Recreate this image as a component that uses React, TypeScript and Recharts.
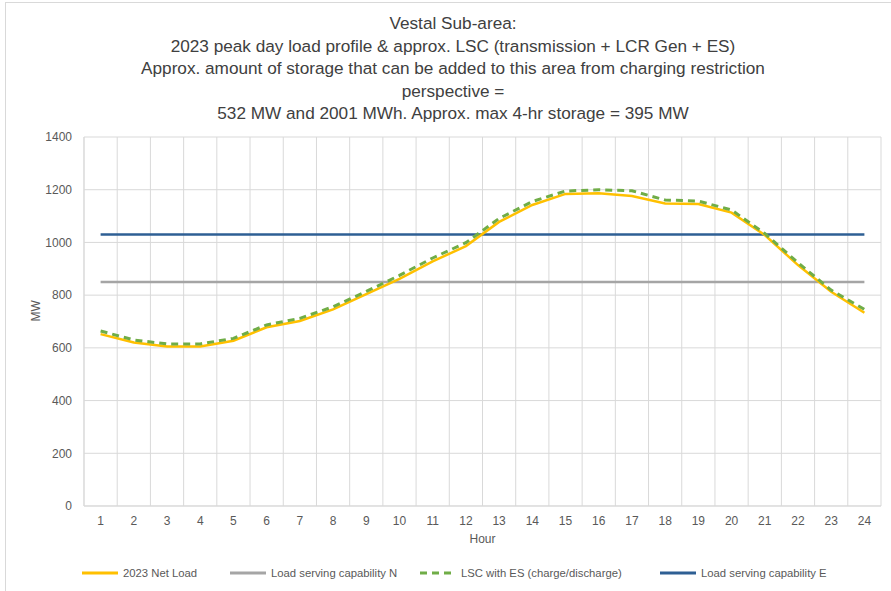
import { LineChart, Line, XAxis, YAxis, CartesianGrid } from "recharts";

const hours = [1, 2, 3, 4, 5, 6, 7, 8, 9, 10, 11, 12, 13, 14, 15, 16, 17, 18, 19, 20, 21, 22, 23, 24];

const netLoad = [652, 620, 605, 605, 627, 678, 702, 746, 804, 862, 928, 986, 1078, 1142, 1184, 1187, 1176, 1148, 1146, 1113, 1028, 914, 813, 733];
const lscWithEs = [664, 630, 615, 615, 636, 687, 712, 756, 814, 875, 941, 999, 1091, 1155, 1195, 1200, 1196, 1161, 1157, 1123, 1034, 923, 819, 746];
const capabilityN = 850;
const capabilityE = 1030;

const yTicks = [0, 200, 400, 600, 800, 1000, 1200, 1400];

const titleLines = [
  "Vestal Sub-area:",
  "2023 peak day load profile & approx. LSC (transmission + LCR Gen + ES)",
  "Approx. amount of storage that can be added to this area from charging restriction",
  "perspective =",
  "532 MW and 2001 MWh. Approx. max 4-hr storage = 395 MW",
];

const data = hours.map((h, i) => ({
  hour: h,
  net: netLoad[i],
  lsc: lscWithEs[i],
  capN: capabilityN,
  capE: capabilityE,
}));

const FONT = "'Liberation Sans', Arial, sans-serif";
const TEXT = "#595959";

const legendItems = [
  { label: "2023 Net Load", color: "#FFC000", dash: false, x: 80 },
  { label: "Load serving capability N", color: "#A5A5A5", dash: false, x: 228 },
  { label: "LSC with ES (charge/discharge)", color: "#70AD47", dash: true, x: 418 },
  { label: "Load serving capability E", color: "#2E5F94", dash: false, x: 658 },
];

export default function App() {
  return (
    <div
      style={{
        position: "fixed",
        left: 0,
        top: 0,
        width: 891,
        height: 591,
        background: "#fff",
        fontFamily: FONT,
        overflow: "hidden",
      }}
    >
      {/* chart frame */}
      <div
        style={{
          position: "absolute",
          left: 5,
          top: 2,
          width: 900,
          height: 600,
          border: "1px solid #d9d9d9",
        }}
      />

      {/* title */}
      <div
        style={{
          position: "absolute",
          left: 0,
          top: 12,
          width: 906,
          textAlign: "center",
          color: "#404040",
          fontSize: 17.2,
          lineHeight: "22.5px",
        }}
      >
        {titleLines.map((t) => (
          <div key={t}>{t}</div>
        ))}
      </div>

      <div style={{ position: "absolute", left: 0, top: 0 }}>
        <LineChart
          width={891}
          height={591}
          data={data}
          margin={{ top: 137, right: 10, bottom: 55, left: 44 }}
        >
          <CartesianGrid
            stroke="#d9d9d9"
            strokeWidth={1}
            verticalCoordinatesGenerator={({ offset }: any) =>
              hours.concat([0]).map((_, i) => offset.left + (i * offset.width) / hours.length)
            }
          />
          <XAxis
            dataKey="hour"
            type="number"
            domain={[0.5, 24.5]}
            ticks={hours}
            tickLine={false}
            tickSize={0}
            tickMargin={10}
            axisLine={{ stroke: "#d9d9d9" }}
            tick={{ fill: TEXT, fontSize: 12, fontFamily: FONT }}
            interval={0}
            height={30}
            label={{ value: "Hour", position: "insideBottom", offset: -7, fill: TEXT, fontSize: 12, fontFamily: FONT }}
          />
          <YAxis
            domain={[0, 1400]}
            ticks={yTicks}
            tickLine={false}
            tickSize={0}
            tickMargin={12}
            axisLine={{ stroke: "#d9d9d9" }}
            tick={{ fill: TEXT, fontSize: 12, fontFamily: FONT }}
            width={40}
            label={{ value: "MW", angle: -90, position: "insideLeft", offset: -8, fill: TEXT, fontSize: 12, fontFamily: FONT }}
          />
          <Line dataKey="capN" stroke="#A5A5A5" strokeWidth={2.5} dot={false} isAnimationActive={false} />
          <Line dataKey="capE" stroke="#2E5F94" strokeWidth={2.5} dot={false} isAnimationActive={false} />
          <Line dataKey="net" stroke="#FFC000" strokeWidth={2.5} dot={false} isAnimationActive={false} />
          <Line
            dataKey="lsc"
            stroke="#70AD47"
            strokeWidth={3}
            strokeDasharray="7 5"
            dot={false}
            isAnimationActive={false}
          />
        </LineChart>
      </div>

      {/* legend */}
      {legendItems.map((it) => (
        <div
          key={it.label}
          style={{
            position: "absolute",
            left: it.x,
            top: 566,
            display: "flex",
            alignItems: "center",
            fontSize: 11.3,
            color: TEXT,
            whiteSpace: "nowrap",
          }}
        >
          <svg width={40} height={14} style={{ marginRight: 3 }}>
            <line
              x1={2}
              x2={38}
              y1={7}
              y2={7}
              stroke={it.color}
              strokeWidth={3}
              strokeDasharray={it.dash ? "7 5" : undefined}
            />
          </svg>
          {it.label}
        </div>
      ))}
    </div>
  );
}
